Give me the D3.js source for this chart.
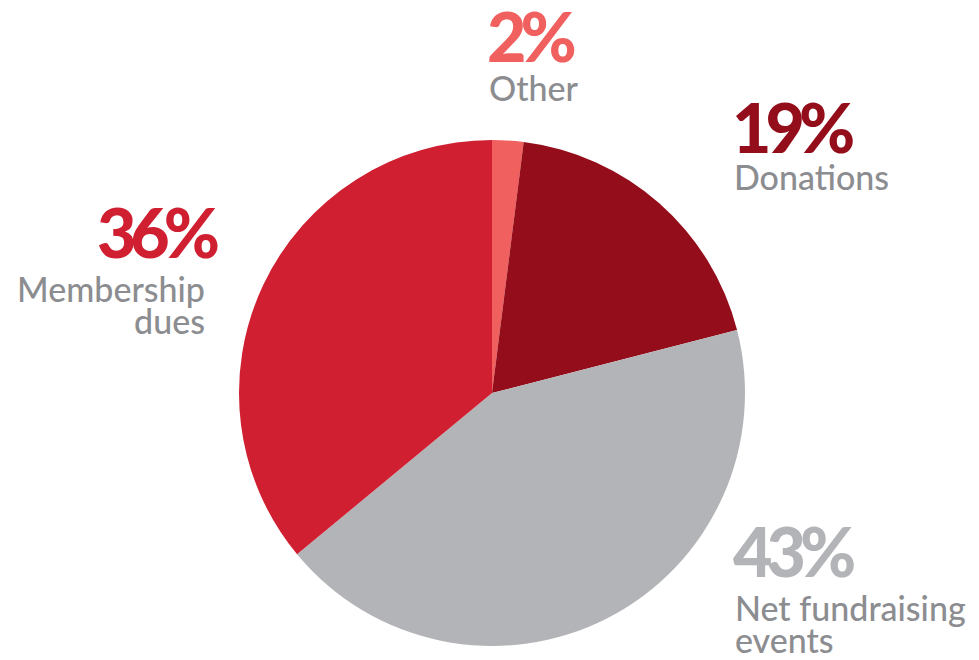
<!DOCTYPE html>
<html>
<head>
<meta charset="utf-8">
<script src="https://cdn.jsdelivr.net/npm/d3@7"></script>
<style>
  body { margin: 0; background: #fff; }
  text { font-family: Lato, "Open Sans", sans-serif; }
</style>
</head>
<body>
<script>
const width = 979;
const height = 660;

// data, clockwise from 12 o'clock
const categories = ["Other", "Donations", "Net fundraising events", "Membership dues"];
const shares = [2, 19, 43, 36];
const colours = ["#f0605e", "#940d1b", "#b3b4b7", "#d01f31"];
const labelLines = [["Other"], ["Donations"], ["Net fundraising", "events"], ["Membership", "dues"]];

const svg = d3
    .select("body")
    .append("svg")
    .attr("width", width)
    .attr("height", height);

const cx = 492, cy = 393, r = 253;

const pie = d3.pie().sort(null).value((d) => d);
const arc = d3.arc().innerRadius(0).outerRadius(r);

svg.append("g")
    .attr("transform", `translate(${cx},${cy})`)
    .selectAll("path")
    .data(pie(shares))
    .enter()
    .append("path")
    .attr("d", arc)
    .attr("fill", (d, i) => colours[i]);

// label anchor positions (percent baseline), text-anchor
const labelPos = [
    { x: 487, y: 62, anchor: "start", first: 39 },
    { x: 732, y: 153, anchor: "start", first: 37 },
    { x: 733, y: 577, anchor: "start", first: 44 },
    { x: 214, y: 258, anchor: "end", first: 44 },
];

const labels = svg.selectAll(".label")
    .data(categories)
    .enter()
    .append("g")
    .attr("class", "label")
    .attr("transform", (d, i) => `translate(${labelPos[i].x},${labelPos[i].y})`);

labels.append("text")
    .text((d, i) => shares[i] + "%")
    .attr("text-anchor", (d, i) => labelPos[i].anchor)
    .attr("fill", (d, i) => colours[i])
    .style("font-size", "68px")
    .style("font-weight", 900)
    .style("letter-spacing", "-6px");

labels.each(function (d, i) {
    const g = d3.select(this);
    labelLines[i].forEach((line, j) => {
        g.append("text")
            .text(line)
            .attr("x", labelPos[i].anchor === "end" ? -9 : 2)
            .attr("y", labelPos[i].first + j * 32)
            .attr("text-anchor", labelPos[i].anchor)
            .attr("fill", "#8c8d90")
            .style("font-size", "34px")
            .style("font-weight", 500);
    });
});
</script>
</body>
</html>
